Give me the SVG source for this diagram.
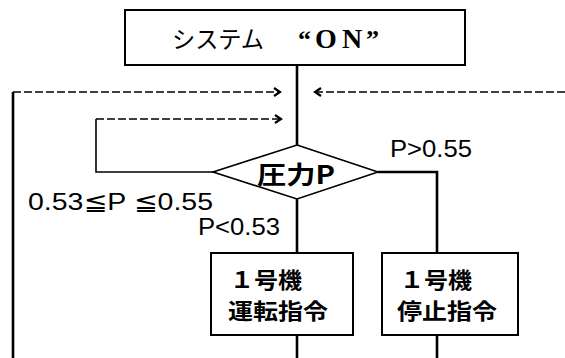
<svg xmlns="http://www.w3.org/2000/svg" width="565" height="358" viewBox="0 0 565 358">
<style>
.box{fill:#fff;stroke:#000;stroke-width:2}
.dia{fill:#fff;stroke:#000;stroke-width:1.6}
.main{fill:none;stroke:#000;stroke-width:2.6}
.thin{fill:none;stroke:#000;stroke-width:1.6}
.dash{fill:none;stroke:#000;stroke-width:1.6;stroke-dasharray:8 3}
.jp{font-family:"Noto Sans CJK JP","Liberation Sans",sans-serif;fill:#000}
.bx{font-family:"Noto Sans CJK JP","Liberation Sans",sans-serif;fill:#000;font-size:22px;font-weight:700}
.num{font-family:"Liberation Sans","DejaVu Sans","Noto Sans CJK JP",sans-serif;fill:#000;font-size:24px}
.ser{font-family:"Liberation Serif",serif;fill:#000;font-weight:700}
</style>
<defs>
<marker id="chev" markerUnits="userSpaceOnUse" markerWidth="10" markerHeight="12" refX="7" refY="5" orient="auto">
<path d="M1,1 L7,5 L1,9" fill="none" stroke="#000" stroke-width="2.2"/>
</marker>
</defs>
<rect width="565" height="358" fill="#fff"/>
<g id="connectors">
<line class="main" x1="297" y1="65" x2="297" y2="145"/>
<line class="main" x1="297" y1="199" x2="297" y2="253"/>
<line class="main" x1="297" y1="335" x2="297" y2="358"/>
<polyline class="main" points="378,172 437,172 437,253"/>
<line class="main" x1="437" y1="335" x2="437" y2="358"/>
<line class="main" x1="13" y1="92" x2="13" y2="358"/>
<line class="dash" x1="13" y1="92" x2="280" y2="92" marker-end="url(#chev)"/>
<line class="dash" x1="565" y1="92" x2="315" y2="92" marker-end="url(#chev)"/>
<polyline class="thin" points="213,172 96,172 96,119"/>
<line class="dash" x1="96" y1="119" x2="281" y2="119" marker-end="url(#chev)"/>
</g>
<g id="start">
<rect class="box" x="125" y="10" width="340" height="55"/>
<text class="jp" x="172" y="48" font-size="24" textLength="92" lengthAdjust="spacingAndGlyphs">システム</text>
<text class="ser" x="298" y="48" font-size="26">“</text>
<text class="ser" x="315" y="48" font-size="28">O</text>
<text class="ser" x="342" y="48" font-size="28">N</text>
<text class="ser" x="366" y="48" font-size="26">”</text>
</g>
<g id="decision">
<polygon class="dia" points="297,145 378,172 297,199 213,172"/>
<text class="jp" x="257" y="184" font-size="25" font-weight="700" textLength="78" lengthAdjust="spacingAndGlyphs">圧力P</text>
</g>
<g id="labels">
<text class="num" x="390" y="157" textLength="82" lengthAdjust="spacingAndGlyphs">P&gt;0.55</text>
<text class="num" x="28" y="210" textLength="185" lengthAdjust="spacingAndGlyphs">0.53≦P ≦0.55</text>
<text class="num" x="198" y="235" textLength="82" lengthAdjust="spacingAndGlyphs">P&lt;0.53</text>
</g>
<g id="run">
<rect class="box" x="211" y="253" width="142" height="82"/>
<text class="bx" x="230" y="288" textLength="72" lengthAdjust="spacingAndGlyphs">１号機</text>
<text class="bx" x="228" y="319" textLength="100" lengthAdjust="spacingAndGlyphs">運転指令</text>
</g>
<g id="stop">
<rect class="box" x="382" y="253" width="136" height="82"/>
<text class="bx" x="400" y="288" textLength="72" lengthAdjust="spacingAndGlyphs">１号機</text>
<text class="bx" x="397" y="319" textLength="100" lengthAdjust="spacingAndGlyphs">停止指令</text>
</g>
</svg>
